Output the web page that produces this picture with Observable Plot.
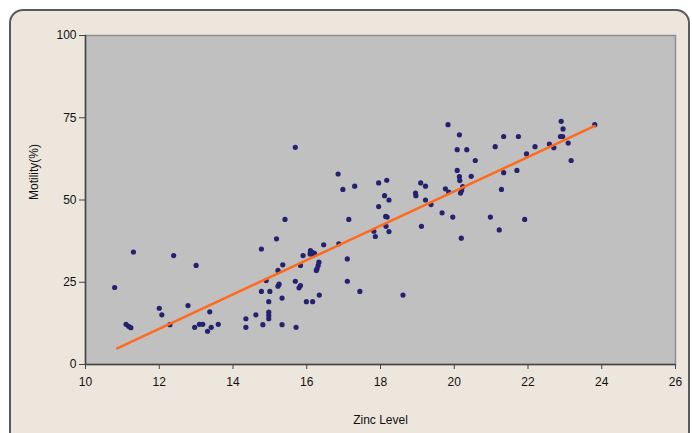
<!DOCTYPE html>
<html><head><meta charset="utf-8">
<script src="https://cdn.jsdelivr.net/npm/d3@7"></script>
<script src="https://cdn.jsdelivr.net/npm/@observablehq/plot@0.6"></script>
<style>
html,body{margin:0;padding:0;background:#fff;width:692px;height:433px;overflow:hidden;}
#wrap{position:relative;width:692px;height:433px;}
#panel{position:absolute;left:9px;top:9px;width:677px;height:440px;background:#ece6dc;border:2px solid #5a5a5a;border-radius:14px;}
#chart{position:absolute;left:0;top:0;}
</style></head><body><div id="wrap"><div id="panel"></div><div id="chart"></div></div>
<script>
const zinc = [10.79,11.3,12.39,13.0,11.1,11.17,11.23,12.0,12.07,12.78,13.37,12.29,12.96,13.09,13.18,13.31,13.41,13.6,14.35,14.35,14.62,14.77,15.41,17.14,15.18,16.46,15.9,
16.1,16.15,16.21,16.17,16.09,16.87,17.1,16.33,16.31,16.28,16.26,15.83,15.35,15.22,14.9,15.22,15.25,15.69,15.83,15.79,14.77,15.0,15.33,14.97,15.99,16.16,16.34,
14.97,14.97,14.97,14.81,15.33,15.71,17.1,17.44,15.69,
16.85,16.98,17.3,17.95,18.17,18.11,18.23,17.95,18.14,18.18,18.15,18.23,17.86,17.82,18.95,18.96,19.09,19.22,19.22,19.11,19.37,
19.83,20.14,20.08,20.34,20.57,20.08,20.14,20.15,20.46,19.76,19.85,20.23,20.17,20.2,19.67,19.96,20.19,20.98,21.22,21.28,21.34,21.7,21.91,21.11,21.34,21.74,21.96,22.19,22.58,22.7,22.9,22.95,22.88,22.94,23.09,23.17,23.81,18.61];
const motility = [23.4,34.2,33.1,30.1,12.2,11.6,11.2,17.1,15.1,17.9,16.0,12.1,11.3,12.2,12.2,10.1,11.3,12.2,13.9,11.3,15.1,35.1,44.1,44.1,38.2,36.4,33.1,
34.6,34.1,33.8,33.4,33.6,36.7,32.1,31.1,30.1,29.1,28.6,30.1,30.3,28.6,25.5,23.8,24.4,25.3,24.0,23.3,22.2,22.2,20.2,19.1,19.1,19.1,21.1,
15.9,14.9,13.9,12.1,12.1,11.3,25.3,22.2,66.0,
57.9,53.2,54.2,55.2,56.0,51.3,50.0,48.0,45.0,44.8,42.0,40.4,38.9,40.5,52.1,51.3,55.2,54.2,50.0,42.0,48.6,
72.9,69.8,65.3,65.3,62.0,59.0,57.1,55.9,57.2,53.4,52.4,54.1,52.1,52.9,46.1,44.8,38.4,44.8,40.9,53.2,58.3,59.0,44.1,66.2,69.3,69.3,64.0,66.2,67.0,65.9,73.9,71.6,69.3,69.3,67.3,62.0,72.9,21.1];
const trendZinc = [10.86, 23.81];
const trendMotility = [4.9, 72.5];
const xTicks = [10,12,14,16,18,20,22,24,26];
const yTicks = [0,25,50,75,100];
const xTitle = "Zinc Level";
const yTitle = "Motility(%)";

const pts = zinc.map((x,i)=>({x, y: motility[i]}));
const trend = trendZinc.map((x,i)=>({x, y: trendMotility[i]}));

const chart = Plot.plot({
  width: 692, height: 433,
  marginLeft: 85, marginRight: 17, marginTop: 35, marginBottom: 69,
  style: {background: "transparent", fontFamily: "'Liberation Sans', Arial, sans-serif", fontSize: "12px", color: "#111"},
  x: {domain: [10, 26]},
  y: {domain: [0, 100]},
  marks: [
    Plot.frame({fill: "#c0c0c0", stroke: "#8e8e8e", strokeWidth: 1.5}),
    Plot.axisX({ticks: xTicks, tickSize: 5, tickPadding: 8, label: null, stroke: "#444", fill: "#111", fontSize: 12}),
    Plot.axisY({ticks: yTicks, tickSize: 6, tickPadding: 3, label: null, stroke: "#444", fill: "#111", fontSize: 12}),
    Plot.ruleX([10], {stroke: "#444", strokeWidth: 1.5}),
    Plot.ruleY([0], {stroke: "#444", strokeWidth: 1.5}),
    Plot.dot(pts, {x: "x", y: "y", r: 2.6, fill: "#24216e", stroke: "none"}),
    Plot.line(trend, {x: "x", y: "y", stroke: "#ff6a1c", strokeWidth: 2.5}),
    Plot.text([xTitle], {frameAnchor: "bottom", dy: 56, lineAnchor: "middle", fill: "#111", fontSize: 12}),
    Plot.text([yTitle], {frameAnchor: "left", dx: -51, rotate: -90, lineAnchor: "middle", fill: "#111", fontSize: 12})
  ]
});
document.getElementById("chart").appendChild(chart);
</script></body></html>
